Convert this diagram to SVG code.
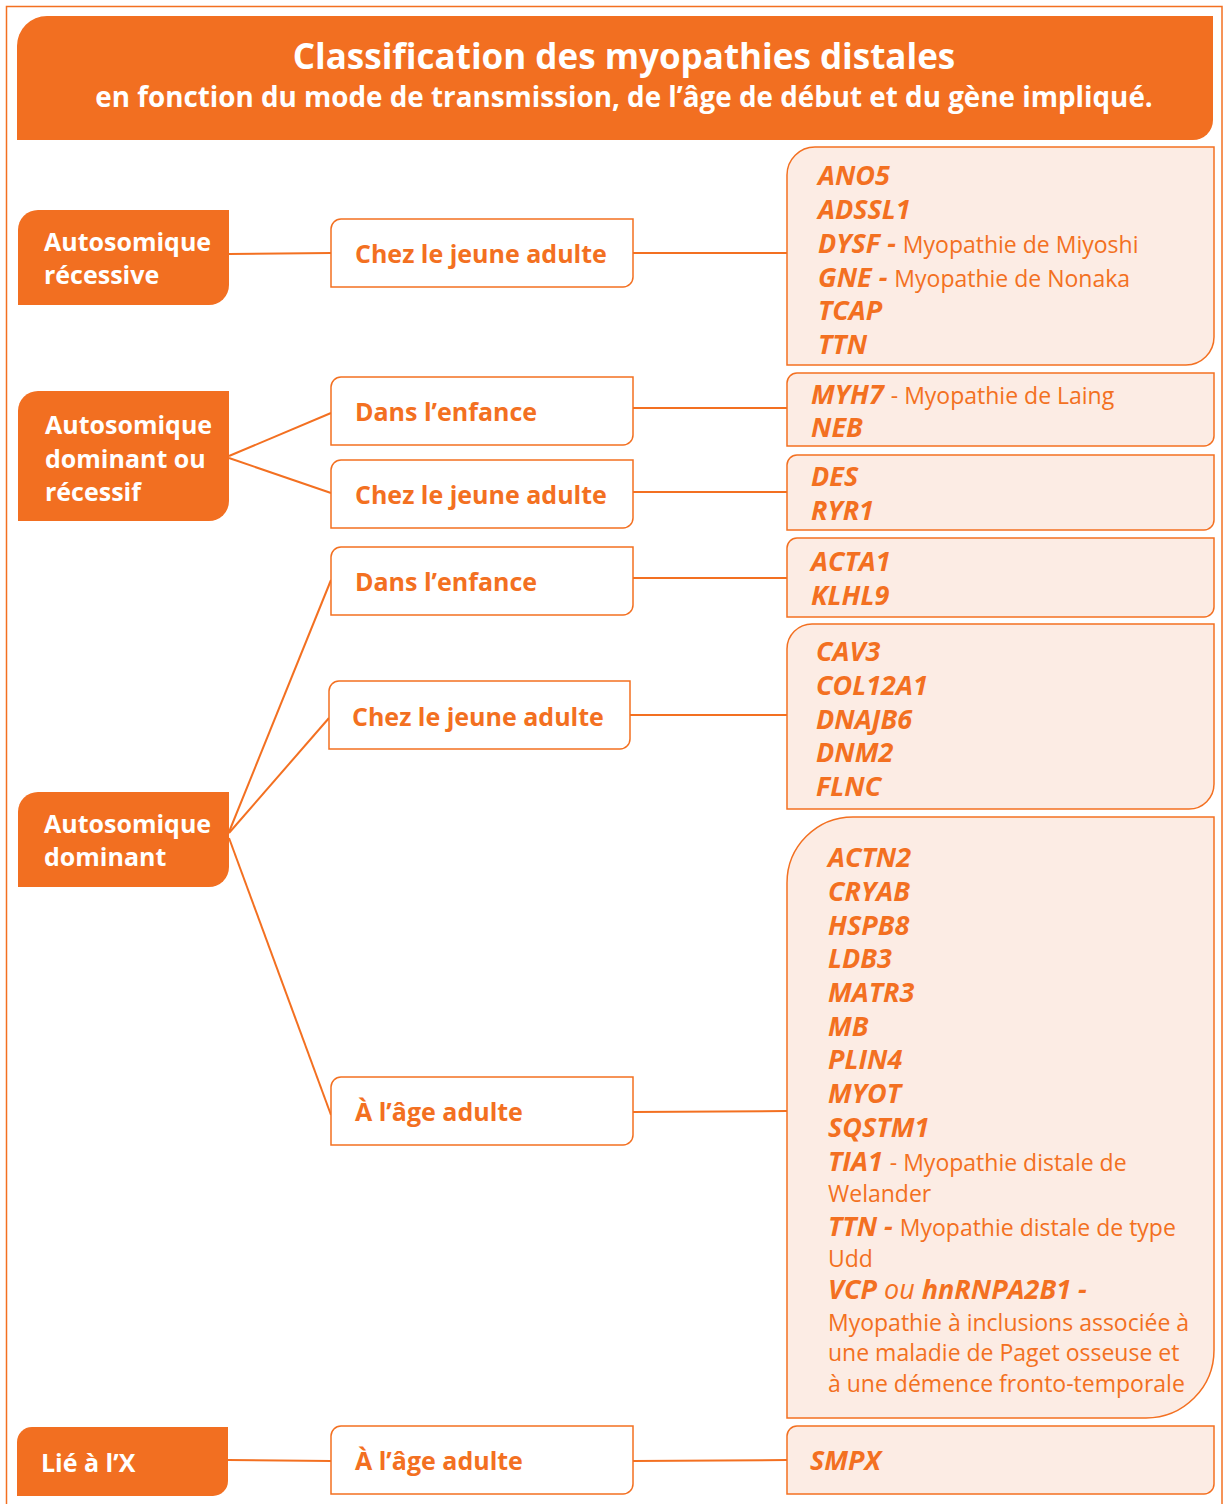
<svg xmlns="http://www.w3.org/2000/svg" width="1225" height="1504" viewBox="0 0 1225 1504">
<style>
.frame{fill:none;stroke:#F37021;stroke-width:1.5}
.hdr{fill:#F26F21}
.lnode{fill:#F26F21}
.mnode{fill:#FFFFFF;stroke:#F37021;stroke-width:1.5}
.gbox{fill:#FCECE4;stroke:#F37021;stroke-width:1.5}
.conn{fill:none;stroke:#F37021;stroke-width:2}
text{font-family:"Open Sans","Noto Sans","DejaVu Sans",sans-serif}
.t1{fill:#fff;font-weight:700;font-size:35px}
.t2{fill:#fff;font-weight:700;font-size:27.8px}
.lt{fill:#fff;font-weight:700;font-size:25px}
.mt{fill:#F37021;font-weight:700;font-size:25px}
.g{fill:#F37021;font-weight:700;font-style:italic;font-size:27px}
.d{fill:#F37021;font-weight:400;font-style:normal;font-size:23px}
.ou{font-weight:400;font-style:italic}
</style>
<rect class="frame" x="6.5" y="6.5" width="1215.5" height="1510"/>
<g id="header">
<path class="hdr" d="M17,46 A30,30 0 0 1 47,16 H1213 V120 A20,20 0 0 1 1193,140 H17 Z"/>
<text class="t1" x="624" y="69" text-anchor="middle">Classification des myopathies distales</text>
<text class="t2" x="624" y="107" text-anchor="middle">en fonction du mode de transmission, de l’âge de début et du gène impliqué.</text>
</g>
<g id="connectors">
<line class="conn" x1="229" y1="254" x2="331" y2="253"/>
<line class="conn" x1="229" y1="456" x2="331" y2="413"/>
<line class="conn" x1="229" y1="458" x2="331" y2="493"/>
<line class="conn" x1="229" y1="832" x2="331" y2="580"/>
<line class="conn" x1="229" y1="833" x2="329" y2="718"/>
<line class="conn" x1="229" y1="838" x2="331" y2="1115"/>
<line class="conn" x1="228" y1="1460" x2="331" y2="1461"/>
<line class="conn" x1="633" y1="253" x2="787" y2="253"/>
<line class="conn" x1="633" y1="408" x2="787" y2="408"/>
<line class="conn" x1="633" y1="492" x2="787" y2="492"/>
<line class="conn" x1="633" y1="578" x2="787" y2="578"/>
<line class="conn" x1="630" y1="715" x2="787" y2="715"/>
<line class="conn" x1="633" y1="1112" x2="787" y2="1111"/>
<line class="conn" x1="633" y1="1461" x2="787" y2="1460"/>
</g>
<g id="ar">
<path class="lnode" d="M18,230 A20,20 0 0 1 38,210 H229 V285 A20,20 0 0 1 209,305 H18 Z"/>
<text class="lt" x="44" y="251">Autosomique</text>
<text class="lt" x="44" y="284">récessive</text>
</g>
<g id="adr">
<path class="lnode" d="M18,411 A20,20 0 0 1 38,391 H229 V501 A20,20 0 0 1 209,521 H18 Z"/>
<text class="lt" x="45" y="434">Autosomique</text>
<text class="lt" x="45" y="468">dominant ou</text>
<text class="lt" x="45" y="501">récessif</text>
</g>
<g id="ad">
<path class="lnode" d="M18,812 A20,20 0 0 1 38,792 H229 V867 A20,20 0 0 1 209,887 H18 Z"/>
<text class="lt" x="44" y="833">Autosomique</text>
<text class="lt" x="44" y="866">dominant</text>
</g>
<g id="x">
<path class="lnode" d="M17,1442 A15,15 0 0 1 32,1427 H228 V1481 A15,15 0 0 1 213,1496 H17 Z"/>
<text class="lt" x="41" y="1472">Lié à l’X</text>
</g>
<g id="ar-jeune">
<path class="mnode" d="M331,229 A10,10 0 0 1 341,219 H633 V277 A10,10 0 0 1 623,287 H331 Z"/>
<text class="mt" x="355" y="263">Chez le jeune adulte</text>
</g>
<g id="adr-enfance">
<path class="mnode" d="M331,387 A10,10 0 0 1 341,377 H633 V435 A10,10 0 0 1 623,445 H331 Z"/>
<text class="mt" x="355" y="421">Dans l’enfance</text>
</g>
<g id="adr-jeune">
<path class="mnode" d="M331,470 A10,10 0 0 1 341,460 H633 V518 A10,10 0 0 1 623,528 H331 Z"/>
<text class="mt" x="355" y="504">Chez le jeune adulte</text>
</g>
<g id="ad-enfance">
<path class="mnode" d="M331,557 A10,10 0 0 1 341,547 H633 V605 A10,10 0 0 1 623,615 H331 Z"/>
<text class="mt" x="355" y="591">Dans l’enfance</text>
</g>
<g id="ad-jeune">
<path class="mnode" d="M329,691 A10,10 0 0 1 339,681 H630 V739 A10,10 0 0 1 620,749 H329 Z"/>
<text class="mt" x="352" y="726">Chez le jeune adulte</text>
</g>
<g id="ad-adulte">
<path class="mnode" d="M331,1087 A10,10 0 0 1 341,1077 H633 V1135 A10,10 0 0 1 623,1145 H331 Z"/>
<text class="mt" x="355" y="1121">À l’âge adulte</text>
</g>
<g id="x-adulte">
<path class="mnode" d="M331,1436 A10,10 0 0 1 341,1426 H633 V1484 A10,10 0 0 1 623,1494 H331 Z"/>
<text class="mt" x="355" y="1470">À l’âge adulte</text>
</g>
<g id="genes-ar">
<path class="gbox" d="M787,175 A28,28 0 0 1 815,147 H1214 V337 A28,28 0 0 1 1186,365 H787 Z"/>
<text class="g" x="818" y="185">ANO5</text>
<text class="g" x="818" y="219">ADSSL1</text>
<text class="g" x="818" y="253">DYSF - <tspan class="d">Myopathie de Miyoshi</tspan></text>
<text class="g" x="818" y="287">GNE - <tspan class="d">Myopathie de Nonaka</tspan></text>
<text class="g" x="818" y="320">TCAP</text>
<text class="g" x="818" y="354">TTN</text>
</g>
<g id="genes-adr-enfance">
<path class="gbox" d="M787,383 A10,10 0 0 1 797,373 H1214 V436 A10,10 0 0 1 1204,446 H787 Z"/>
<text class="g" x="811" y="404">MYH7 <tspan class="d">- Myopathie de Laing</tspan></text>
<text class="g" x="811" y="437">NEB</text>
</g>
<g id="genes-adr-jeune">
<path class="gbox" d="M787,465 A10,10 0 0 1 797,455 H1214 V520 A10,10 0 0 1 1204,530 H787 Z"/>
<text class="g" x="811" y="486">DES</text>
<text class="g" x="811" y="520">RYR1</text>
</g>
<g id="genes-ad-enfance">
<path class="gbox" d="M787,548 A10,10 0 0 1 797,538 H1214 V607 A10,10 0 0 1 1204,617 H787 Z"/>
<text class="g" x="811" y="571">ACTA1</text>
<text class="g" x="811" y="605">KLHL9</text>
</g>
<g id="genes-ad-jeune">
<path class="gbox" d="M787,649 A25,25 0 0 1 812,624 H1214 V784 A25,25 0 0 1 1189,809 H787 Z"/>
<text class="g" x="816" y="661">CAV3</text>
<text class="g" x="816" y="695">COL12A1</text>
<text class="g" x="816" y="729">DNAJB6</text>
<text class="g" x="816" y="762">DNM2</text>
<text class="g" x="816" y="796">FLNC</text>
</g>
<g id="genes-ad-adulte">
<path class="gbox" d="M787,883 A66,66 0 0 1 853,817 H1214 V1350 A68,68 0 0 1 1146,1418 H787 Z"/>
<text class="g" x="828" y="867">ACTN2</text>
<text class="g" x="828" y="901">CRYAB</text>
<text class="g" x="828" y="935">HSPB8</text>
<text class="g" x="828" y="968">LDB3</text>
<text class="g" x="828" y="1002">MATR3</text>
<text class="g" x="828" y="1036">MB</text>
<text class="g" x="828" y="1069">PLIN4</text>
<text class="g" x="828" y="1103">MYOT</text>
<text class="g" x="828" y="1137">SQSTM1</text>
<text class="g" x="828" y="1171">TIA1 <tspan class="d">- Myopathie distale de</tspan></text>
<text class="d" x="828" y="1202">Welander</text>
<text class="g" x="828" y="1236">TTN - <tspan class="d">Myopathie distale de type</tspan></text>
<text class="d" x="828" y="1267">Udd</text>
<text class="g" x="828" y="1299">VCP <tspan class="ou">ou</tspan> hnRNPA2B1 -</text>
<text class="d" x="828" y="1331">Myopathie à inclusions associée à</text>
<text class="d" x="828" y="1361">une maladie de Paget osseuse et</text>
<text class="d" x="828" y="1392">à une démence fronto-temporale</text>
</g>
<g id="genes-x">
<path class="gbox" d="M787,1436 A10,10 0 0 1 797,1426 H1214 V1484 A10,10 0 0 1 1204,1494 H787 Z"/>
<text class="g" x="810" y="1470">SMPX</text>
</g>
</svg>
